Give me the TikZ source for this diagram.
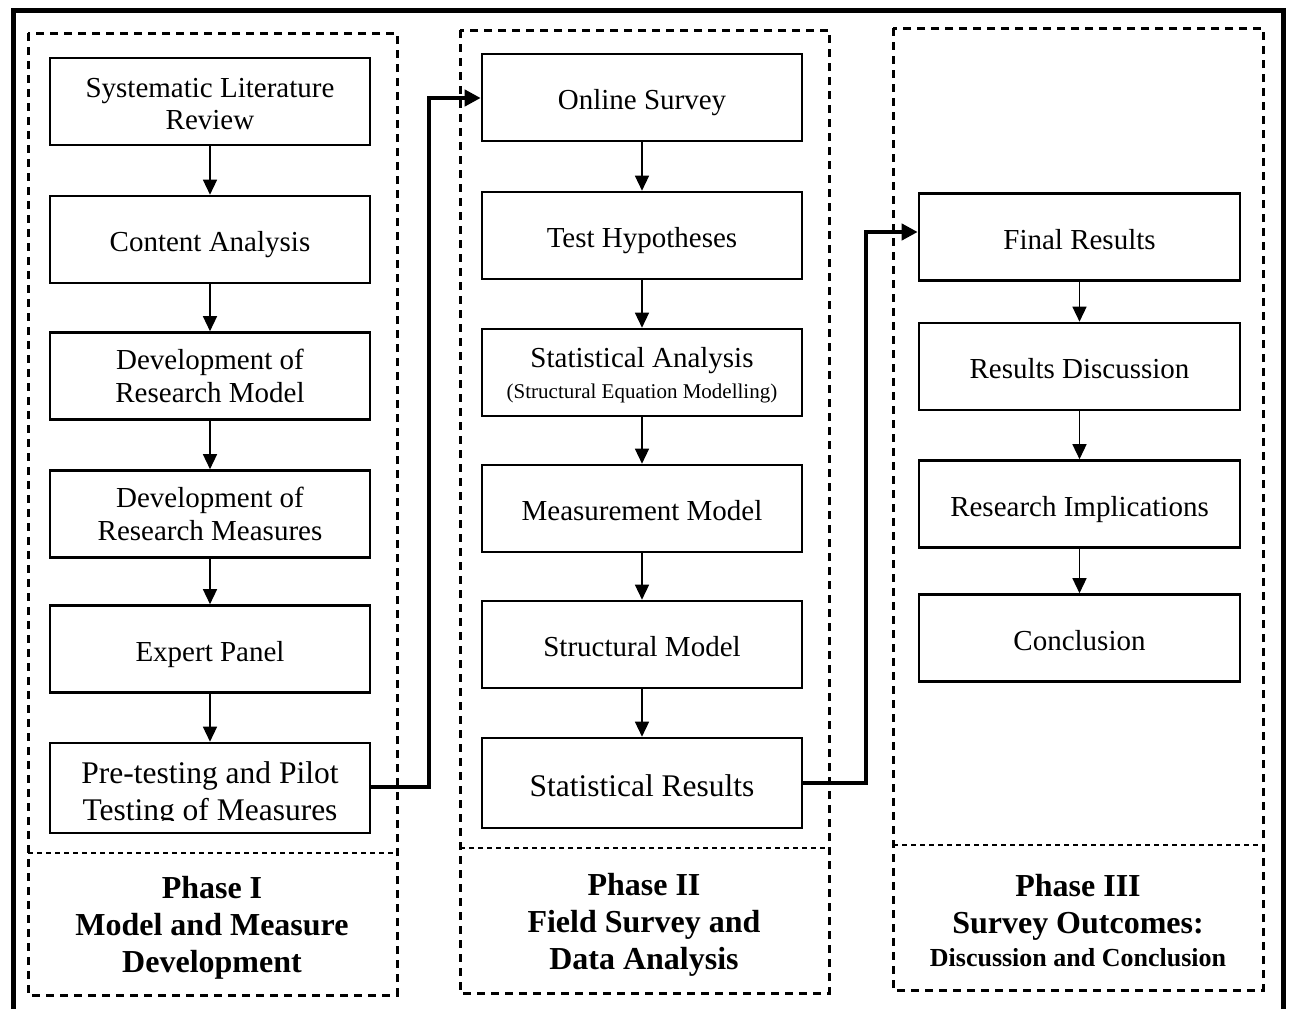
\documentclass[tikz,border=0pt]{standalone}
\usepackage{fontspec}
\setmainfont{Liberation Serif}
\usetikzlibrary{arrows.meta}
\begin{document}
\begin{tikzpicture}[x=1pt,y=-1pt,
  stepbox/.style={draw, line width=2.6pt, minimum width=320pt, minimum height=87pt,
    inner sep=0pt, align=center, font=\fontsize{29}{32.5}\selectfont},
  oneline/.style={text height=24pt, text depth=0pt},
  bigtext/.style={font=\fontsize{31.5}{37}\selectfont},
  flow/.style={line width=1.4pt, -{Triangle[length=15pt,width=14pt]}},
  link/.style={line width=4pt, -{Triangle[length=16pt,width=16pt]}},
  phasebox/.style={draw, line width=3pt, dash pattern=on 8pt off 6pt},
  divider/.style={line width=1.4pt, dash pattern=on 5pt off 4pt},
  phaselabel/.style={align=center, font=\bfseries\fontsize{32}{37}\selectfont}]
\useasboundingbox (0,0) rectangle (1291,1009);
\fill[white] (0,0) rectangle (1291,1009);

% outer frame
\draw[line width=5pt] (13,1009) -- (13,10) -- (1283,10) -- (1283,1009);

% phase frames with their label areas
\draw[phasebox] (28,33) rectangle (397,995);
\draw[divider] (28,853) -- (397,853);
\draw[phasebox] (460,30) rectangle (829,993);
\draw[divider] (460,848) -- (829,848);
\draw[phasebox] (893,28) rectangle (1263,990);
\draw[divider] (893,845) -- (1263,845);

% Phase I steps
\node[stepbox] (p1) at (210,101.5) {\rule{0pt}{24pt}Systematic Literature\\Review};
\node[stepbox, oneline] (p2) at (210,239.5) {Content Analysis};
\node[stepbox] (p3) at (210,376) {Development of\\Research Model};
\node[stepbox] (p4) at (210,514) {Development of\\Research Measures};
\node[stepbox, oneline] (p5) at (210,649) {Expert Panel};
\node[stepbox, minimum height=90pt] (p6) at (210,788) {};
\begin{scope}
  \clip (52,745) rectangle (368,820);
  \node[bigtext, align=center] (p6text) at (210,794) {Pre-testing and Pilot\\Testing of Measures};
\end{scope}

% Phase II steps
\node[stepbox, oneline] (s1) at (642,97.5) {Online Survey};
\node[stepbox, oneline] (s2) at (642,235.5) {Test Hypotheses};
\node[stepbox] (s3) at (642,372.5) {\rule{0pt}{26pt}Statistical Analysis\\[-2pt]{\fontsize{21}{24}\selectfont (Structural Equation Modelling)}};
\node[stepbox, oneline] (s4) at (642,508.5) {Measurement Model};
\node[stepbox, oneline] (s5) at (642,644.5) {Structural Model};
\node[stepbox, minimum height=90pt, bigtext, text height=26pt, text depth=0pt] (s6) at (642,783) {Statistical Results};

% Phase III steps
\node[stepbox, oneline, minimum width=321pt] (t1) at (1079.5,237) {Final Results};
\node[stepbox, oneline, minimum width=321pt] (t2) at (1079.5,366.5) {Results Discussion};
\node[stepbox, oneline, minimum width=321pt] (t3) at (1079.5,504) {Research Implications};
\node[stepbox, oneline, minimum width=321pt] (t4) at (1079.5,638) {Conclusion};

% flow inside each phase
\draw[flow] (p1) -- (p2);
\draw[flow] (p2) -- (p3);
\draw[flow] (p3) -- (p4);
\draw[flow] (p4) -- (p5);
\draw[flow] (p5) -- (p6);
\draw[flow] (s1) -- (s2);
\draw[flow] (s2) -- (s3);
\draw[flow] (s3) -- (s4);
\draw[flow] (s4) -- (s5);
\draw[flow] (s5) -- (s6);
\draw[flow] (t1) -- (t2);
\draw[flow] (t2) -- (t3);
\draw[flow] (t3) -- (t4);

% links between phases
\draw[link] ([yshift=1pt]p6.east) -- ++(58,0) |- ([yshift=-0.5pt]s1.west);
\draw[link] (s6.east) -- ++(63,0) |- ([yshift=5pt]t1.west);

% phase labels
\node[phaselabel] (ph1) at (212,927.5) {Phase I\\Model and Measure\\Development};
\node[phaselabel] (ph2) at (644,925) {Phase II\\Field Survey and\\Data Analysis};
\node[phaselabel] (ph3) at (1078,920.5) {Phase III\\Survey Outcomes:\\[-4pt]{\fontsize{26}{30}\selectfont Discussion and Conclusion}};
\end{tikzpicture}
\end{document}
